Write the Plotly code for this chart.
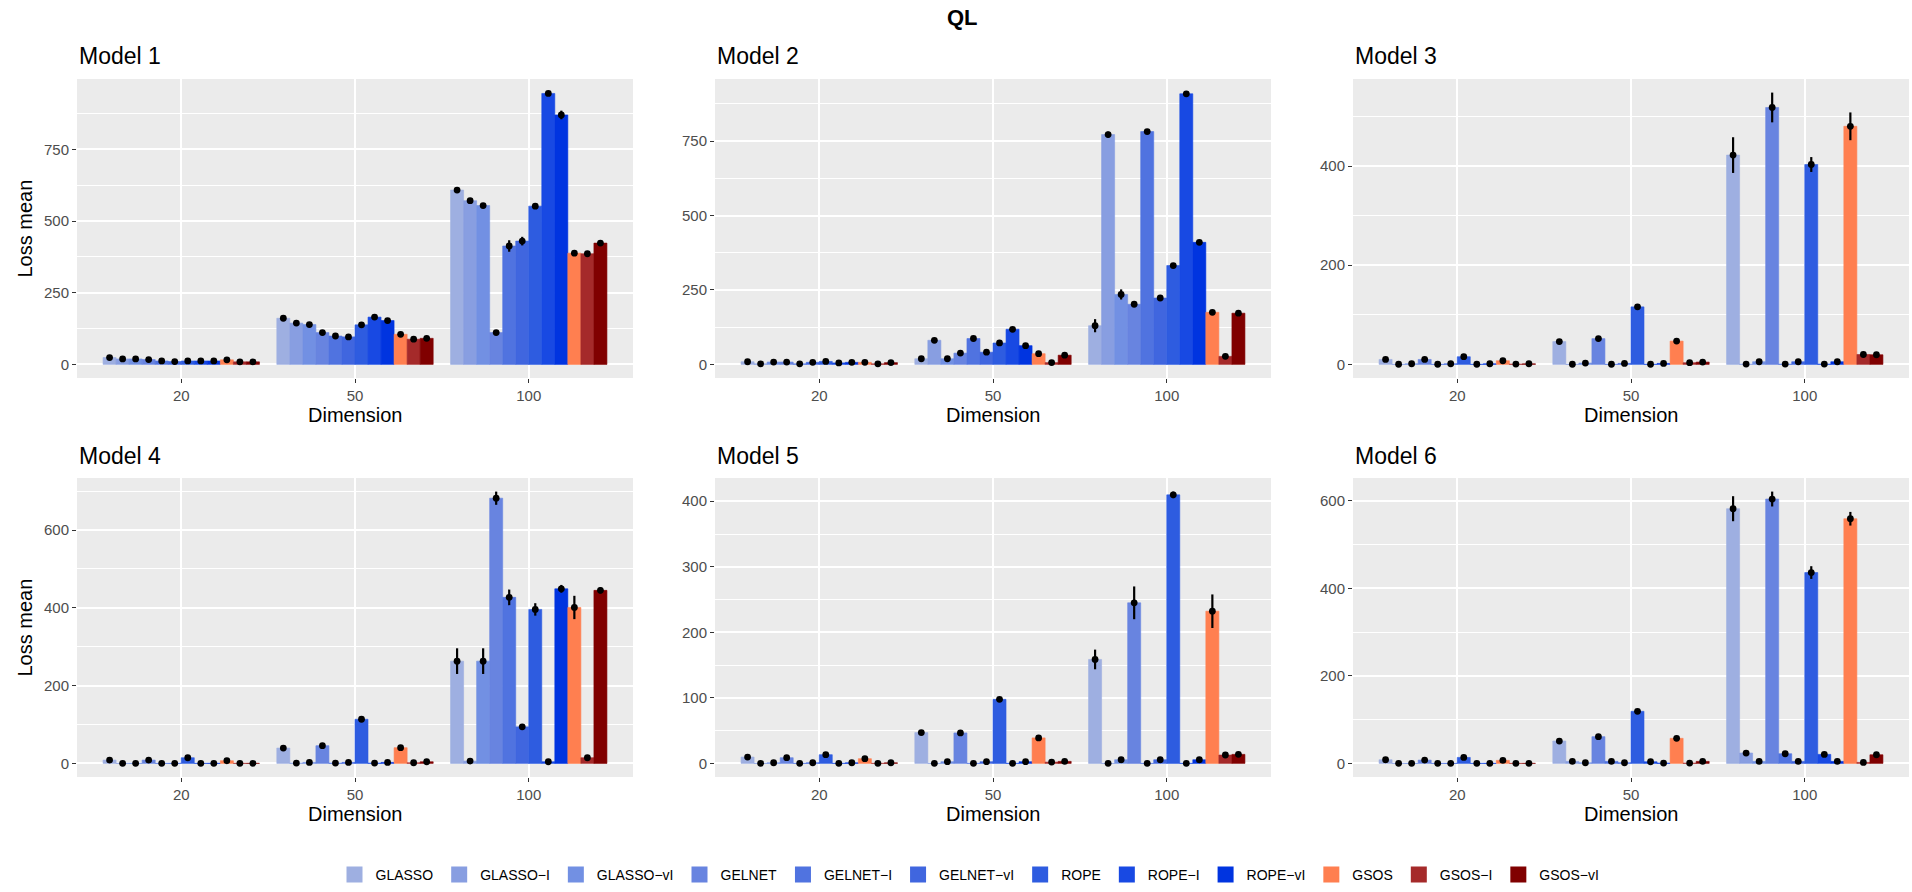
import plotly.graph_objects as go

# ---------------- data ----------------
methods = ["GLASSO", "GLASSO\u2212I", "GLASSO\u2212vI", "GELNET", "GELNET\u2212I", "GELNET\u2212vI",
           "ROPE", "ROPE\u2212I", "ROPE\u2212vI", "GSOS", "GSOS\u2212I", "GSOS\u2212vI"]
colors = ["#9EAFE1", "#889EE1", "#7290E3", "#6884E0", "#5073E0", "#4066DF",
          "#2E5CE0", "#1849E3", "#0034E0", "#FF7F50", "#A52A2A", "#800000"]
dimensions = ["20", "50", "100"]
model_titles = ["Model 1", "Model 2", "Model 3", "Model 4", "Model 5", "Model 6"]

# means: one list per dimension (20, 50, 100), 12 methods each
m1_mean = [[24, 19, 19, 17, 12, 10, 12, 12, 12, 16, 9, 9],
           [161, 144, 139, 111, 99, 96, 138, 165, 153, 105, 88, 91],
           [608, 571, 554, 111, 413, 430, 552, 945, 870, 388, 386, 423]]
m1_err = [[1, 1, 1, 1, 1, 1, 1, 1, 1, 1, 1, 1],
          [2, 2, 2, 2, 2, 2, 2, 2, 2, 2, 2, 2],
          [3, 3, 8, 3, 20, 15, 4, 3, 15, 8, 8, 10]]

m2_mean = [[9, 2, 8, 8, 2, 7, 10, 5, 7, 7, 2, 6],
           [19, 81, 19, 38, 87, 41, 72, 118, 63, 36, 6, 31],
           [130, 772, 235, 202, 782, 223, 332, 909, 410, 175, 27, 172]]
m2_err = [[1, 1, 1, 1, 1, 1, 1, 1, 1, 1, 1, 1],
          [2, 3, 2, 2, 3, 2, 2, 3, 2, 2, 1, 2],
          [22, 10, 17, 3, 8, 3, 4, 4, 4, 3, 3, 3]]

m3_mean = [[10, 0.3, 1.3, 10, 0.3, 1.3, 15.5, 0.3, 1.3, 7.4, 0.7, 1.3],
           [46, 0.3, 2.7, 52, 0.3, 2, 116, 0.3, 2, 47, 3.4, 4.7],
           [422, 0.7, 5.4, 518, 0.7, 5.4, 403, 0.7, 5.4, 480, 20, 19.5]]
m3_err = [[1, 0.2, 0.3, 1, 0.2, 0.3, 1, 0.2, 0.3, 1, 0.2, 0.3],
          [2, 0.2, 0.5, 2, 0.2, 0.5, 2, 0.2, 0.5, 2, 0.5, 0.5],
          [36, 0.5, 1, 30, 0.5, 1, 15, 0.5, 1, 28, 2, 2]]

m4_mean = [[8.6, 0.3, 0.3, 8.6, 0.3, 0.3, 14.6, 0.3, 0.3, 6.9, 0.3, 0.3],
           [39.5, 0.9, 2.6, 45.6, 0.9, 2.6, 113.5, 0.9, 2.6, 40.4, 1.7, 4.3],
           [263, 6, 263, 682, 427, 94, 396, 4.3, 449, 401, 14.6, 445]]
m4_err = [[1, 0.2, 0.2, 1, 0.2, 0.2, 1, 0.2, 0.2, 1, 0.2, 0.2],
          [2, 0.3, 0.5, 2, 0.3, 0.5, 2, 0.3, 0.5, 2, 0.5, 0.5],
          [33, 1, 33, 17, 20, 4, 16, 1, 10, 30, 2, 8]]

m5_mean = [[9.7, 0.2, 1, 8.7, 0.2, 1, 13.3, 0.2, 1, 7.2, 0.2, 1],
           [47, 0.2, 2.6, 46.5, 0.2, 2.6, 97.7, 0.2, 2.6, 38.9, 2, 3.1],
           [158.6, 0.2, 5.6, 245, 0.2, 5.6, 409.7, 0.2, 5.6, 232.2, 12.8, 13.8]]
m5_err = [[1, 0.1, 0.2, 1, 0.1, 0.2, 1, 0.1, 0.2, 1, 0.1, 0.2],
          [1.5, 0.1, 0.5, 1.5, 0.1, 0.5, 1.5, 0.1, 0.5, 1.5, 0.5, 0.5],
          [15, 0.2, 1, 25, 0.2, 1, 5, 0.2, 1, 25.6, 1, 1]]

m6_mean = [[8.4, 0.2, 0.2, 7.6, 0.2, 0.2, 13.7, 0.2, 0.2, 6.9, 0.2, 0.2],
           [51.1, 4.6, 1.5, 61.1, 4.6, 1.5, 119, 3.8, 0.8, 57.3, 0.8, 4.6],
           [581.7, 23.7, 4.6, 603.8, 22.1, 4.6, 435.9, 20.6, 4.6, 558.8, 2.3, 19.8]]
m6_err = [[1, 0.1, 0.1, 1, 0.1, 0.1, 1, 0.1, 0.1, 1, 0.1, 0.1],
          [2, 0.5, 0.3, 2, 0.5, 0.3, 2, 0.5, 0.3, 2, 0.3, 0.5],
          [28.6, 2, 0.5, 17, 2, 0.5, 14.5, 2, 0.5, 15.6, 0.5, 2]]

y_ticks = [[0, 250, 500, 750], [0, 250, 500, 750], [0, 200, 400],
           [0, 200, 400, 600], [0, 100, 200, 300, 400], [0, 200, 400, 600]]

all_means = [m1_mean, m2_mean, m3_mean, m4_mean, m5_mean, m6_mean]
all_errs = [m1_err, m2_err, m3_err, m4_err, m5_err, m6_err]

# ---------------- layout geometry (pixels) ----------------
W, H = 1912, 892
col_px = [(77, 633), (715, 1271), (1353, 1909)]
row_px = [(79, 378), (478, 777)]
FONT = "Liberation Sans, Arial, Helvetica, sans-serif"

fig = go.Figure()
annotations = []
layout_axes = {}

for k in range(6):
    r, c = divmod(k, 3)
    n = k + 1
    xr = "x" if n == 1 else f"x{n}"
    yr = "y" if n == 1 else f"y{n}"
    means = all_means[k]
    errs = all_errs[k]
    for j, m in enumerate(methods):
        yv = [means[d][j] for d in range(3)]
        ev = [errs[d][j] for d in range(3)]
        fig.add_trace(go.Bar(
            x=dimensions, y=yv, name=m, legendgroup=m, showlegend=False,
            marker=dict(color=colors[j], line=dict(width=0.6, color=colors[j])),
            error_y=dict(type="data", array=ev, color="black", thickness=2.2, width=0),
            xaxis=xr, yaxis=yr, offsetgroup=str(j), hoverinfo="skip"))
    for j, m in enumerate(methods):
        yv = [means[d][j] for d in range(3)]
        fig.add_trace(go.Scatter(
            x=dimensions, y=yv, mode="markers", showlegend=False, legendgroup=m,
            marker=dict(color="black", size=6.8), xaxis=xr, yaxis=yr,
            offsetgroup=str(j), hoverinfo="skip"))

    top = max(means[d][j] + errs[d][j] for d in range(3) for j in range(12))
    yrange = [-0.05 * top, 1.05 * top]
    ticks = y_ticks[k]
    step = ticks[1] - ticks[0]

    x0, x1 = col_px[c]
    y0, y1 = row_px[r]
    xkey = "xaxis" if n == 1 else f"xaxis{n}"
    ykey = "yaxis" if n == 1 else f"yaxis{n}"
    layout_axes[xkey] = dict(
        domain=[x0 / W, x1 / W], anchor=yr, type="category",
        categoryorder="array", categoryarray=dimensions,
        range=[-0.6, 2.6], showgrid=True, gridcolor="white", gridwidth=2,
        ticks="outside", ticklen=4, tickwidth=1.3, tickcolor="#333333",
        tickfont=dict(size=15, color="#4D4D4D", family=FONT),
        zeroline=False, showline=False, fixedrange=True)
    layout_axes[ykey] = dict(
        domain=[1 - y1 / H, 1 - y0 / H], anchor=xr, range=yrange,
        tickmode="array", tickvals=ticks, ticktext=[str(t) for t in ticks],
        showgrid=True, gridcolor="white", gridwidth=2,
        minor=dict(tickmode="linear", tick0=step / 2, dtick=step, showgrid=True,
                   gridcolor="white", gridwidth=1, ticks=""),
        ticks="outside", ticklen=4, tickwidth=1.3, tickcolor="#333333",
        tickfont=dict(size=15, color="#4D4D4D", family=FONT),
        zeroline=False, showline=False, fixedrange=True)

    # panel title
    annotations.append(dict(
        text=model_titles[k], x=x0 / W, y=1 - (y0 - 22.5) / H,
        xref="paper", yref="paper", xanchor="left", yanchor="middle",
        showarrow=False, font=dict(size=23, color="black", family=FONT)))
    # x axis title
    annotations.append(dict(
        text="Dimension", x=(x0 + x1) / 2 / W, y=1 - (y1 + 37) / H,
        xref="paper", yref="paper", xanchor="center", yanchor="middle",
        showarrow=False, font=dict(size=20, color="black", family=FONT)))
    if c == 0:
        annotations.append(dict(
            text="Loss mean", x=24 / W, y=1 - (y0 + y1) / 2 / H,
            xref="paper", yref="paper", xanchor="center", yanchor="middle",
            textangle=-90, showarrow=False,
            font=dict(size=20, color="black", family=FONT)))

# legend entries (legend-only, larger square keys)
for j, m in enumerate(methods):
    fig.add_trace(go.Scatter(
        x=[None], y=[None], mode="markers", name=m, legendgroup=m, showlegend=True,
        marker=dict(symbol="square", size=30, color=colors[j],
                    line=dict(width=0)),
        xaxis="x", yaxis="y", hoverinfo="skip"))

annotations.append(dict(
    text="<b>QL</b>", x=963 / W, y=1 - 18 / H, xref="paper", yref="paper",
    xanchor="center", yanchor="middle", showarrow=False,
    font=dict(size=22, color="black", family=FONT)))

fig.update_layout(
    width=W, height=H,
    margin=dict(l=0, r=0, t=0, b=0),
    paper_bgcolor="white", plot_bgcolor="#EBEBEB",
    barmode="group", bargap=0.1, bargroupgap=0,
    scattermode="group", scattergap=0.1,
    font=dict(family=FONT),
    annotations=annotations,
    legend=dict(orientation="h", x=969 / W, xanchor="center",
                y=1 - 875 / H, yanchor="middle",
                font=dict(size=14, color="black", family=FONT),
                traceorder="normal", itemwidth=32, itemsizing="trace",
                bgcolor="rgba(0,0,0,0)"),
    **layout_axes)

fig.write_html("out.html", config={"displayModeBar": False},
               post_script="document.body.style.margin='0px';document.body.style.padding='0px';")
